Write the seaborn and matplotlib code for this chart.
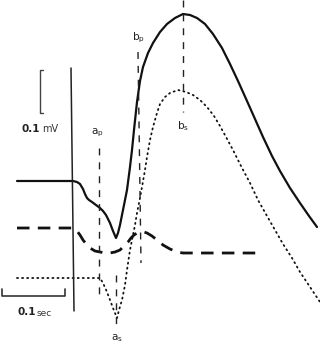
import matplotlib
matplotlib.use("Agg")
import matplotlib.pyplot as plt
import seaborn as sns
import pandas as pd

sns.set_style("white")
plt.rcParams['font.family'] = ['DejaVu Sans']

# Traces (x = time position, y = potential position, screen units, y grows downward)
solid_x = [17, 73, 77, 80, 83, 85, 87, 89, 92, 96, 100, 103, 106, 110, 113, 116, 118, 120, 123, 127, 130, 132, 134, 137, 140, 143, 148, 153, 160, 167, 175, 183, 190, 197, 205, 213, 222, 230, 238, 247, 255, 263, 272, 280, 290, 300, 309, 317]
solid_y = [181, 181, 182, 184, 189, 194, 198, 200, 202, 205, 208, 211, 215, 223, 231, 238, 233, 225, 210, 190, 167, 150, 130, 102, 81, 67, 53, 43, 32, 24, 18, 14, 15, 18, 24, 34, 48, 64, 81, 101, 119, 137, 156, 171, 188, 203, 216, 227]

dotted_x = [17, 100, 103, 107, 110, 113, 115, 117, 119, 122, 125, 127, 130, 132, 135, 137, 140, 142, 145, 147, 150, 153, 157, 160, 165, 170, 178, 186, 193, 200, 207, 214, 220, 226, 233, 241, 250, 258, 267, 275, 283, 292, 300, 310, 320]
dotted_y = [278, 278, 283, 292, 300, 308, 313, 318, 310, 300, 285, 270, 250, 240, 225, 213, 198, 187, 170, 157, 140, 127, 113, 104, 97, 93, 90, 92, 95, 100, 107, 116, 126, 137, 150, 166, 183, 200, 216, 230, 244, 258, 272, 287, 302]

dashed_x = [17, 73, 77, 80, 83, 87, 90, 95, 100, 105, 110, 115, 120, 124, 128, 131, 134, 137, 140, 144, 147, 152, 157, 163, 170, 177, 183, 195, 207, 230, 258]
dashed_y = [228, 228, 231, 235, 240, 245, 248, 251, 252, 253, 253, 252, 250, 246, 242, 238, 235, 233, 232, 232, 233, 236, 240, 245, 249, 252, 253, 253, 253, 253, 253]

# Reference markers
marker_names = ['a_p', 'a_s', 'b_p', 'b_s']
marker_x_top = [99, 116, 138, 183]
marker_x_bot = [99, 116, 141, 183]
marker_y_top = [148, 275, 52, 0]
marker_y_bot = [300, 327, 263, 112]
label_x = [97, 117, 138, 183]
label_y = [133, 338, 38, 126]

# Axis / scale bars
stim_x = [71, 74]
stim_y = [68, 311]
volt_bar_x = [43, 40, 40, 43]
volt_bar_y = [70, 70, 113, 113]
time_bar_x = [2, 2, 65, 65]
time_bar_y = [289, 296, 296, 289]

fig = plt.figure(figsize=(3.2, 3.44), dpi=100)
ax = fig.add_axes([0, 0, 1, 1])

df_s = pd.DataFrame({'x': solid_x, 'y': solid_y})
df_d = pd.DataFrame({'x': dotted_x, 'y': dotted_y})
df_k = pd.DataFrame({'x': dashed_x, 'y': dashed_y})

sns.lineplot(data=df_s, x='x', y='y', sort=False, estimator=None, ax=ax,
             color='#111111', linewidth=1.6)
sns.lineplot(data=df_d, x='x', y='y', sort=False, estimator=None, ax=ax,
             color='#111111', linewidth=1.3, linestyle=(0, (0.6, 2.2)),
             dash_capstyle='round')
sns.lineplot(data=df_k, x='x', y='y', sort=False, estimator=None, ax=ax,
             color='#111111', linewidth=2.0, linestyle=(0, (4.5, 3)))

for xt, xb, yt, yb in zip(marker_x_top, marker_x_bot, marker_y_top, marker_y_bot):
    ax.plot([xt, xb], [yt, yb], color='#222222', linewidth=1.0,
            linestyle=(0, (5, 5)))

for name, lx, ly in zip(marker_names, label_x, label_y):
    base, sub = name.split('_')
    ax.text(lx, ly, r'$\mathregular{%s_{%s}}$' % (base, sub), fontsize=7.5,
            ha='center', va='center', color='#222222')

ax.plot(stim_x, stim_y, color='#222222', linewidth=1.1)
ax.plot(volt_bar_x, volt_bar_y, color='#444444', linewidth=1.0)
ax.plot(time_bar_x, time_bar_y, color='#333333', linewidth=1.2)

ax.text(22, 129, '0.1', fontsize=7.5, fontweight='bold', ha='left', va='center', color='#222222')
ax.text(42, 129, 'mV', fontsize=7, ha='left', va='center', color='#333333')
ax.text(18, 312, '0.1', fontsize=7.5, fontweight='bold', ha='left', va='center', color='#222222')
ax.text(37, 313, 'sec', fontsize=6.5, ha='left', va='center', color='#333333')

ax.set_xlim(0, 320)
ax.set_ylim(344, 0)
ax.axis('off')
fig.savefig('out.png', dpi=100)
